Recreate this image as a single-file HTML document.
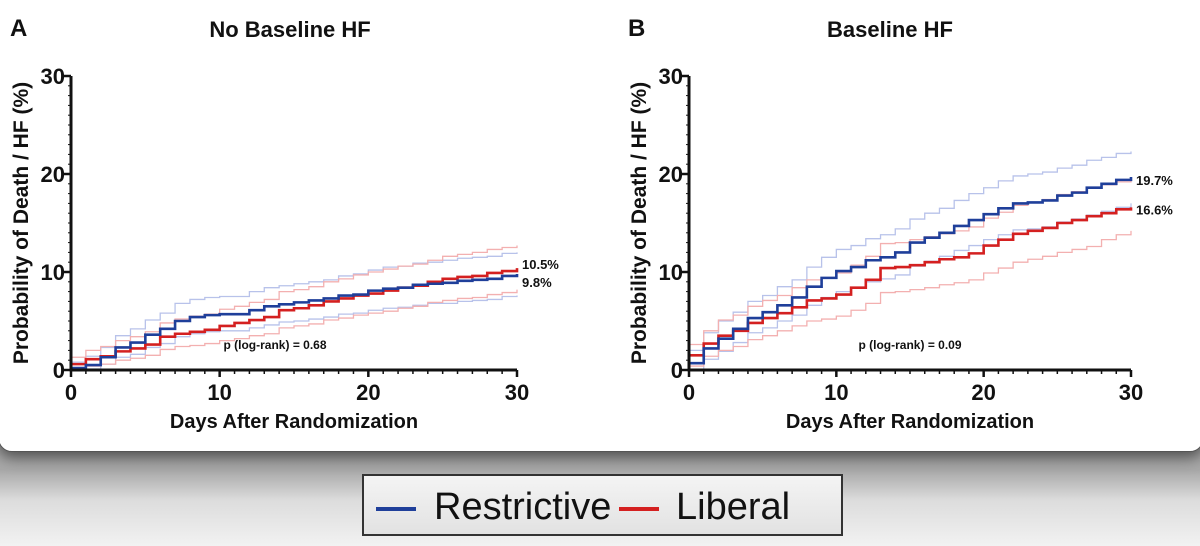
<!DOCTYPE html>
<html><head><meta charset="utf-8"><style>
body{margin:0;width:1200px;height:546px;overflow:hidden;font-family:"Liberation Sans",sans-serif;background:linear-gradient(#7d7d7d 0px,#a8a8a8 470px,#dcdcdc 500px,#f2f2f2 546px);}
#wrap{position:relative;width:1200px;height:546px;}
#card{position:absolute;left:-2px;top:-10px;width:1204px;height:460px;background:#fff;border-radius:0 0 14px 14px;border:1px solid #555;box-shadow:0 6px 14px rgba(0,0,0,0.5);}
#legend{position:absolute;left:362px;top:474px;width:481px;height:62px;border:2px solid #333;background:linear-gradient(#f4f4f4,#e2e2e2);box-sizing:border-box;font-size:38px;color:#111;}
.lg{position:absolute;top:10px;}
.sw{position:absolute;top:31px;width:40px;height:4px;}
svg{position:absolute;left:0;top:0}
</style></head><body>
<div id="wrap">
<div id="card"></div>
<svg id="chart" width="1200" height="460"></svg>
<div id="legend">
<div class="sw" style="left:12px;background:#1f3f9a"></div>
<div class="lg" style="left:70px">Restrictive</div>
<div class="sw" style="left:255px;background:#d42020"></div>
<div class="lg" style="left:312px">Liberal</div>
</div>
</div>
<script>
const days=[0,1,2,3,4,5,6,7,8,9,10,11,12,13,14,15,16,17,18,19,20,21,22,23,24,25,26,27,28,29,30];
const xTicks=[0,10,20,30];
const yTicks=[0,10,20,30];
const blueA=[0.2,0.5,1.3,2.3,2.8,3.6,4.2,5.0,5.4,5.6,5.7,5.7,6.1,6.5,6.7,6.9,7.1,7.3,7.6,7.7,8.1,8.3,8.4,8.7,8.8,8.9,9.1,9.2,9.3,9.6,9.8];
const redA=[0.6,1.1,1.4,1.9,2.2,2.6,3.4,3.7,3.9,4.1,4.5,4.8,5.1,5.4,6.1,6.3,6.6,7.0,7.3,7.6,7.8,8.1,8.4,8.6,9.0,9.3,9.5,9.6,9.9,10.1,10.4];
const blueAUp=[0.8,1.4,2.3,3.5,4.2,5.1,5.8,6.8,7.2,7.4,7.5,7.5,8.0,8.4,8.6,8.8,9.0,9.2,9.6,9.8,10.2,10.5,10.6,10.9,11.0,11.2,11.4,11.5,11.6,11.9,12.0];
const blueALo=[0,0.1,0.6,1.3,1.6,2.3,2.7,3.4,3.7,3.9,4.0,4.0,4.3,4.6,4.9,5.0,5.2,5.4,5.7,5.8,6.1,6.3,6.4,6.6,6.8,6.8,7.0,7.1,7.2,7.5,7.6];
const redAUp=[1.3,2.0,2.4,3.0,3.4,3.9,4.8,5.2,5.5,5.7,6.2,6.5,6.9,7.2,8.0,8.2,8.5,9.0,9.3,9.7,10.0,10.3,10.6,10.8,11.2,11.6,11.8,12.0,12.3,12.5,12.7];
const redALo=[0.1,0.4,0.6,1.0,1.2,1.5,2.1,2.4,2.5,2.7,3.0,3.2,3.5,3.7,4.3,4.5,4.7,5.1,5.3,5.6,5.8,6.0,6.3,6.5,6.9,7.1,7.3,7.4,7.7,7.9,8.2];
const blueB=[0.7,2.2,3.2,4.2,5.3,5.9,6.6,7.4,8.5,9.4,10.1,10.5,11.2,11.5,12.0,13.0,13.5,14.0,14.7,15.3,15.9,16.5,17.0,17.1,17.3,17.8,18.1,18.6,19.0,19.4,19.7];
const redB=[1.5,2.7,3.5,4.0,4.8,5.3,5.8,6.4,7.1,7.3,7.7,8.4,9.2,10.4,10.5,10.7,11.0,11.3,11.5,11.9,12.7,13.3,13.9,14.2,14.5,15.0,15.3,15.7,16.0,16.4,16.6];
const blueBUp=[2.0,3.8,5.0,5.9,7.0,7.6,8.5,9.2,10.5,11.5,12.3,12.7,13.4,13.8,14.4,15.4,16.0,16.5,17.3,18.0,18.6,19.3,19.8,20.0,20.2,20.6,20.9,21.4,21.7,22.1,22.3];
const blueBLo=[0,1.1,1.9,2.8,3.8,4.3,5.0,5.6,6.6,7.4,8.0,8.4,9.0,9.3,9.7,10.6,11.1,11.6,12.2,12.7,13.3,13.8,14.3,14.4,14.6,15.1,15.4,15.8,16.2,16.6,17.0];
const redBUp=[2.6,4.0,5.1,5.6,6.5,7.1,7.6,8.4,9.2,9.4,9.9,10.7,11.6,12.9,13.0,13.3,13.6,13.9,14.2,14.6,15.5,16.1,16.8,17.1,17.4,17.9,18.2,18.6,18.9,19.2,19.3];
const redBLo=[0.4,1.4,2.0,2.4,3.1,3.5,4.0,4.5,5.0,5.2,5.5,6.1,6.8,7.9,8.0,8.2,8.4,8.7,8.9,9.2,9.9,10.4,11.0,11.3,11.6,12.0,12.3,12.6,13.3,13.8,14.2];
const endLabelsA=["10.5%","9.8%"];
const endLabelsB=["19.7%","16.6%"];

const NS="http://www.w3.org/2000/svg";
const svg=document.getElementById('chart');
function mk(tag,attrs,parent){const e=document.createElementNS(NS,tag);for(const k in attrs)e.setAttribute(k,attrs[k]);(parent||svg).appendChild(e);return e;}
function txt(s,attrs,parent){const e=mk('text',attrs,parent);e.textContent=s;return e;}

function panel(cfg){
  const g=mk('g',{});
  
  
  const X=d=>cfg.x0+(cfg.x1-cfg.x0)*d/30;
  const Y=v=>cfg.y0-(cfg.y0-cfg.y1)*v/30;
  const step=(arr)=>{let p='M'+X(days[0])+','+Y(arr[0]);for(let i=1;i<days.length;i++){p+=' H'+X(days[i])+' V'+Y(arr[i]);}return p;};
  const series=[[cfg.bu,'#b8c2ea',1.3,'ci-upper-restrictive'],[cfg.bl,'#b8c2ea',1.3,'ci-lower-restrictive'],[cfg.ru,'#f3b0b0',1.3,'ci-upper-liberal'],[cfg.rl,'#f3b0b0',1.3,'ci-lower-liberal'],[cfg.r,'#d42020',2.6,'line-liberal'],[cfg.b,'#1f3f9a',2.6,'line-restrictive']];
  series.forEach(s=>{const p=mk('path',{d:step(s[0]),fill:'none',stroke:s[1],'stroke-width':s[2]},g);
    
    });
  const ax=mk('path',{d:`M${cfg.x0},${cfg.y1} V${cfg.y0} H${cfg.x1}`,fill:'none',stroke:'#111','stroke-width':3},g);
  
  
  for(let d=0;d<=30;d++){const big=d%10==0;mk('line',{x1:X(d),x2:X(d),y1:cfg.y0,y2:cfg.y0+(big?7:4),stroke:'#111','stroke-width':big?2.5:1.5},g);}
  for(let v=0;v<=30;v++){const big=v%10==0;mk('line',{x1:cfg.x0,x2:cfg.x0-(big?7:3),y1:Y(v),y2:Y(v),stroke:'#111','stroke-width':big?2.5:1},g);}
  xTicks.forEach(t=>{const e=txt(String(t),{x:X(t),y:cfg.y0+30,'text-anchor':'middle','font-size':22,'font-weight':'bold',fill:'#111'},g);
    
    });
  yTicks.forEach(t=>{const e=txt(String(t),{x:cfg.x0-6,y:Y(t)+8,'text-anchor':'end','font-size':22,'font-weight':'bold',fill:'#111'},g);
    
    });
  const xl=txt('Days After Randomization',{x:(cfg.x0+cfg.x1)/2,y:428,'text-anchor':'middle','font-size':20,'font-weight':'bold',fill:'#111'},g);
  
  
  const yl=txt('Probability of Death / HF (%)',{x:0,y:0,transform:`translate(${cfg.x0-43},${(cfg.y0+cfg.y1)/2}) rotate(-90)`,'text-anchor':'middle','font-size':21,'font-weight':'bold',fill:'#111'},g);
  
  
  const tt=txt(cfg.title,{x:cfg.tx,y:37,'text-anchor':'middle','font-size':22,'font-weight':'bold',fill:'#111'},g);
  
  
  const lt=txt(cfg.letter,{x:cfg.lx,y:36,'font-size':24,'font-weight':'bold',fill:'#111'},g);
  
  
  const pv=txt(cfg.p,{x:cfg.px,y:cfg.y0-21,'text-anchor':'middle','font-size':12,'font-weight':'bold',fill:'#111'},g);
  
  
  cfg.labels.forEach((s,i)=>{const e=txt(s,{x:cfg.x1+5,y:Y(cfg.lv[i])+5,'font-size':13,'font-weight':'bold',fill:'#111'},g);
    
    });
}
panel({name:'panel-a',x0:71,x1:517,y0:370,y1:76,b:blueA,r:redA,bu:blueAUp,bl:blueALo,ru:redAUp,rl:redALo,title:'No Baseline HF',tx:290,letter:'A',lx:10,p:'p (log-rank) = 0.68',px:275,labels:endLabelsA,lv:[10.8,9.0]});
panel({name:'panel-b',x0:689,x1:1131,y0:370,y1:76,b:blueB,r:redB,bu:blueBUp,bl:blueBLo,ru:redBUp,rl:redBLo,title:'Baseline HF',tx:890,letter:'B',lx:628,p:'p (log-rank) = 0.09',px:910,labels:endLabelsB,lv:[19.4,16.4]});
</script>
</body></html>
